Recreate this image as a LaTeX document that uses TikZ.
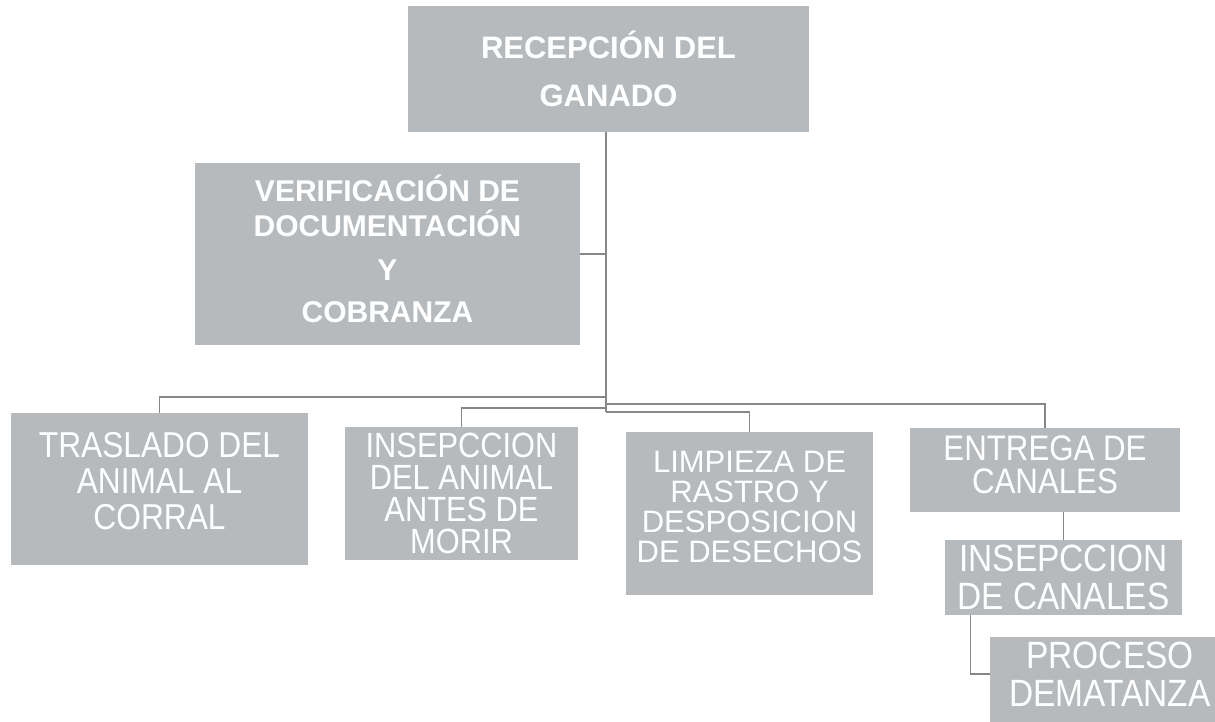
\documentclass[tikz,border=0pt]{standalone}
\usepackage{fontspec}
\setmainfont{Liberation Sans}
\newfontfamily\condsans[FakeStretch=0.88]{Liberation Sans}
\usetikzlibrary{backgrounds}
\definecolor{boxgray}{RGB}{182,186,189}
\definecolor{linegray}{RGB}{135,135,135}
\tikzset{
  box/.style={fill=boxgray, text=white, align=center, inner sep=0pt},
  openbox/.style={text=white, align=center, inner sep=0pt},
  wire/.style={draw=linegray, line width=1.2pt}
}
\begin{document}
\begin{tikzpicture}[x=1pt, y=-1pt]
\useasboundingbox (0,0) rectangle (1215,721);
\clip (0,0) rectangle (1215,721);

\node[box, minimum width=401pt, minimum height=126pt, font=\bfseries\fontsize{31}{48}\selectfont] (root) at (608.5,69) {RECEPCIÓN DEL\\GANADO};

\node[box, minimum width=385pt, minimum height=182pt, font=\bfseries\fontsize{30}{35}\selectfont] (verif) at (387.5,254) {VERIFICACIÓN DE\\DOCUMENTACIÓN\\[9pt]Y\\[7pt]COBRANZA\\[-25pt]};

\node[box, minimum width=297pt, minimum height=152pt, font=\condsans\fontsize{36}{36}\selectfont] (tras) at (159.5,489) {TRASLADO DEL\\ANIMAL AL\\CORRAL\\[-20pt]};

\node[box, minimum width=233pt, minimum height=133pt, font=\condsans\fontsize{35}{32}\selectfont] (insa) at (461.5,493.5) {INSEPCCION\\DEL ANIMAL\\ANTES DE\\MORIR};

\node[box, minimum width=247pt, minimum height=163pt, font=\fontsize{31}{30}\selectfont] (limp) at (749.5,513.5) {LIMPIEZA DE\\RASTRO Y\\DESPOSICION\\DE DESECHOS\\[-16pt]};

\node[box, minimum width=270pt, minimum height=84pt, font=\condsans\fontsize{35.5}{33}\selectfont] (entr) at (1045,470) {ENTREGA DE\\CANALES\\[-23pt]};

\node[box, minimum width=237pt, minimum height=75pt, font=\condsans\fontsize{38}{38}\selectfont] (insc) at (1063.5,577.5) {INSEPCCION\\DE CANALES};

\node[openbox, minimum width=240pt, minimum height=74pt, font=\condsans\fontsize{38}{38}\selectfont] (proc) at (1110,674) {PROCESO\\DEMATANZA};
\begin{pgfonlayer}{background}
\fill[white] (0,0) rectangle (1215,721);
\fill[boxgray] (proc.north west) rectangle ([yshift=-20pt]proc.south east);
\end{pgfonlayer}

\coordinate (jt) at (606,397);
\coordinate (je) at (606,404);
\coordinate (ji) at (606,408);
\coordinate (jl) at (606,412);

\draw[wire] (root.south -| jl) -- (jl);
\draw[wire] (verif.east) -- (verif.east -| jl);
\draw[wire] (tras.north) |- (jt);
\draw[wire] (insa.north) |- (ji);
\draw[wire] (entr.north) |- (je);
\draw[wire] (limp.north) |- (jl);
\draw[wire] (insc.north) -- (insc.north |- entr.south);
\draw[wire] ([xshift=26pt]insc.south west) |- (proc.west);
\end{tikzpicture}
\end{document}
